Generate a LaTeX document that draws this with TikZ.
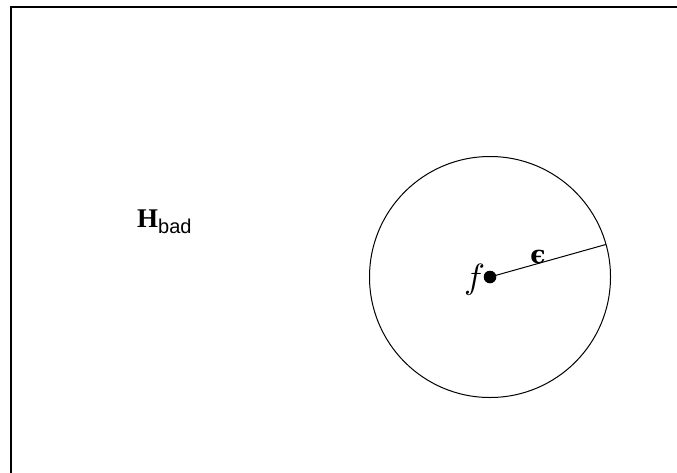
\documentclass[tikz,border=0pt]{standalone}
\usepackage{fontspec}
\setmainfont{Liberation Serif}
\newfontfamily\lsans{Liberation Sans}
\newfontfamily\djserif{DejaVu Serif}
\newfontfamily\lmmath{Latin Modern Math}
\begin{document}
\begin{tikzpicture}[x=1pt,y=-1pt,
  lbl/.style={inner sep=0pt, anchor=base},
  thinline/.style={line width=1pt, black}]
\useasboundingbox (0,0) rectangle (677,472);
\draw[line width=1.6pt] (11,480) -- (11,7) -- (685,7);
\coordinate (c) at (490,277);
\draw[thinline] (c) circle (120.5);
\fill (c) circle (6.3);
\coordinate (r) at (605.8,244.5);
\draw[thinline] (c) -- (r);
\node[lbl] (f) at (473,288) {\lmmath\fontsize{35}{40}\selectfont 𝑓};
\node[lbl] (eps) at (538,263) {\djserif\bfseries\fontsize{25}{30}\selectfont ϵ};
\node[lbl, anchor=base west] (h) at (137,227) {\fontsize{27}{30}\selectfont\textbf{H}\raisebox{-6pt}{\lsans\fontsize{20}{24}\selectfont bad}};
\end{tikzpicture}
\end{document}
